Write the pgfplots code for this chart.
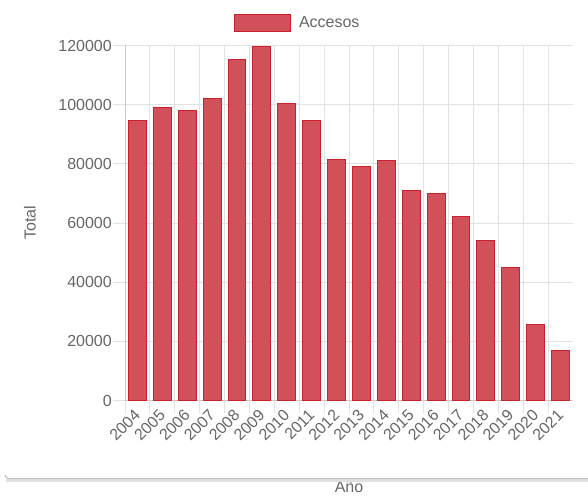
\documentclass[border=0pt]{standalone}
\usepackage{fontspec}
\setmainfont{Liberation Sans}
\usepackage{pgfplots}
\pgfplotsset{compat=1.18}
\definecolor{txtgray}{RGB}{102,102,102}
\definecolor{gridgray}{RGB}{226,226,226}
\definecolor{axisgray}{RGB}{200,200,200}
\definecolor{barfill}{RGB}{210,80,89}
\definecolor{barline}{RGB}{200,32,45}
\begin{document}
\begin{tikzpicture}[x=1pt,y=1pt,font=\fontsize{16}{19}\selectfont]
\useasboundingbox (0,0) rectangle (588,495);
\begin{axis}[
  at={(125pt,94.5pt)}, anchor=south west,
  scale only axis, width=448pt, height=355pt,
  xmin=-0.5, xmax=17.5, ymin=0, ymax=120000,
  ybar, bar width=0.72,
  axis x line*=bottom, axis y line*=left,
  axis line style={axisgray, line width=0.8pt},
  tick align=outside, major tick length=12pt,
  tick style={gridgray, line width=0.8pt},
  grid style={gridgray, line width=0.8pt},
  xmajorgrids, ymajorgrids,
  xtick={-0.5,0.5,...,16.5}, xticklabels={},
  extra x ticks={0,1,...,17},
  extra x tick labels={2004,2005,2006,2007,2008,2009,2010,2011,2012,2013,2014,2015,2016,2017,2018,2019,2020,2021},
  extra x tick style={grid=none, tick style={draw=none},
    xticklabel style={rotate=45, anchor=east, inner sep=0pt, text=txtgray}},
  ytick={0,20000,...,120000},
  scaled y ticks=false,
  yticklabel style={text=txtgray, inner sep=1pt},
  /pgf/number format/.cd, fixed, 1000 sep={}, assume math mode=true,
  /pgfplots/.cd,
  ylabel={Total}, xlabel={Año},
  every axis y label/.style={at={(axis description cs:-0.212,0.5)}, rotate=90, anchor=center, text=txtgray},
  every axis x label/.style={at={(axis description cs:0.5,-0.2437)}, anchor=center, text=txtgray},
  legend style={draw=none, fill=none, inner sep=0pt, outer sep=0pt,
    at={(axis description cs:0.2433,1.0634)}, anchor=west, text=txtgray,
    nodes={inner sep=0pt}},
  legend image code/.code={%
    \draw[fill=barfill, draw=barline, line width=1pt] (0pt,-8.5pt) rectangle (56pt,8.5pt);
    \path (64pt,0pt);},
]
\addplot[bar shift=0pt, fill=barfill, draw=barline, line width=1pt] coordinates {
  (0,94600) (1,99200) (2,98000) (3,102200) (4,115400) (5,119700)
  (6,100500) (7,94700) (8,81400) (9,79200) (10,81200) (11,71100)
  (12,69900) (13,62300) (14,54000) (15,44900) (16,25600) (17,16800)
};
\addlegendentry{Accesos}
\end{axis}
% bottom edge of the card holding the chart
\draw[white!88!black, line width=2.5pt] (6,14.5) -- (588,14.5);
\draw[white!76!black, line width=1.2pt] (5,20) arc (180:270:3.5) -- (588,16.5);
\end{tikzpicture}
\end{document}
